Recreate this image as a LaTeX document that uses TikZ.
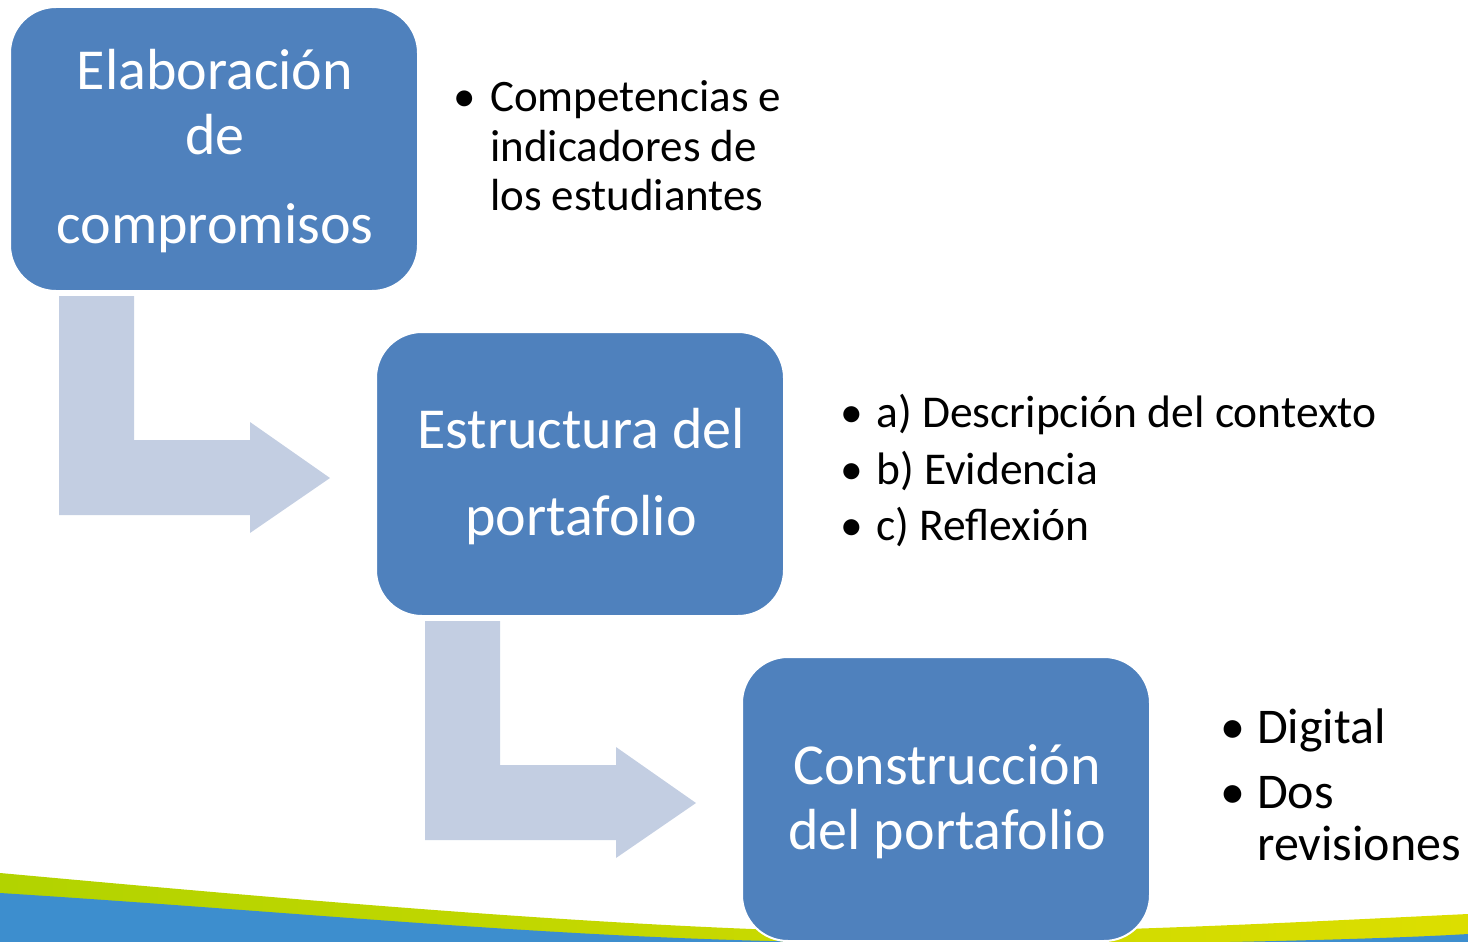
\documentclass[tikz,border=0pt]{standalone}
\usepackage{fontspec}
\setmainfont{Carlito}
\usetikzlibrary{shapes.misc}
\definecolor{boxblue}{HTML}{4F81BD}
\definecolor{arrowblue}{HTML}{C3CEE2}
\definecolor{bandblue}{HTML}{3D8ECE}
\definecolor{bandgreenL}{HTML}{B2D300}
\definecolor{bandgreenR}{HTML}{DCDE00}
\tikzset{
  stepbox/.style={rounded corners=46pt, fill=boxblue, draw=white, line width=2pt,
    minimum width=408pt, minimum height=284pt, inner sep=0pt},
  boxtext/.style={text=white, font=\fontsize{58}{69}\selectfont, anchor=base, inner sep=0pt},
  itemtext/.style={text=black, anchor=base west, inner sep=0pt},
  bendarrow/.style={fill=arrowblue, draw=none}
}
\begin{document}
\begin{tikzpicture}[x=1pt,y=-1pt]
\useasboundingbox (0,0) rectangle (1468,942);
% bottom band
\shade[left color=bandgreenL, right color=bandgreenR]
  (0,873) .. controls (350,905) and (650,930) .. (900,933)
  .. controls (1100,933) and (1300,922) .. (1468,914) -- (1468,942) -- (0,942) -- cycle;
\fill[bandblue] (0,893) .. controls (300,912) and (550,938) .. (820,942) -- (0,942) -- cycle;
\fill[bandblue] (1230,942) .. controls (1330,940) and (1420,937) .. (1468,934) -- (1468,942) -- cycle;
% bent arrows
\fill[bendarrow] (59,296) -- (134,296) -- (134,440) -- (250,440) -- (250,422) -- (330,478)
  -- (250,533) -- (250,515) -- (59,515) -- cycle;
\fill[bendarrow] (425,621) -- (500,621) -- (500,765) -- (616,765) -- (616,747) -- (696,803)
  -- (616,858) -- (616,840) -- (425,840) -- cycle;
% boxes
\node[stepbox] (b1) at (214,149) {};
\node[stepbox] (b2) at (580,474) {};
\node[stepbox] (b3) at (946,799) {};
\node[boxtext] (b1a) at (215,90) {Elaboración};
\node[boxtext] (b1b) at (215,154) {de};
\node[boxtext] (b1c) at (215,243) {compromisos};
\node[boxtext] (b2a) at (581,448) {Estructura del};
\node[boxtext] (b2b) at (581,535) {portafolio};
\node[boxtext] (b3a) at (947,784) {Construcción};
\node[boxtext] (b3b) at (947,849) {del portafolio};
% list 1
\begin{scope}[every node/.style={itemtext, font=\fontsize{45}{50}\selectfont}]
\node (l1bul) at (453,111) {•};
\node (l1a) at (490,111) {Competencias e};
\node (l1b) at (490,161) {indicadores de};
\node (l1c) at (490,210) {los estudiantes};
\end{scope}
% list 2
\begin{scope}[every node/.style={itemtext, font=\fontsize{45.5}{50}\selectfont}]
\node (l2bul1) at (840,427) {•};
\node (l2a) at (876,427) {a) Descripción del contexto};
\node (l2bul2) at (840,484) {•};
\node (l2b) at (876,484) {b) Evidencia};
\node (l2bul3) at (840,540) {•};
\node (l2c) at (876,540) {c) Reflexión};
\end{scope}
% list 3
\begin{scope}[every node/.style={itemtext, font=\fontsize{50}{58}\selectfont}]
\node (l3bul1) at (1220,743) {•};
\node (l3a) at (1257,743) {Digital};
\node (l3bul2) at (1220,808) {•};
\node (l3b) at (1257,808) {Dos};
\node (l3c) at (1257,860) {revisiones};
\end{scope}
\end{tikzpicture}
\end{document}
